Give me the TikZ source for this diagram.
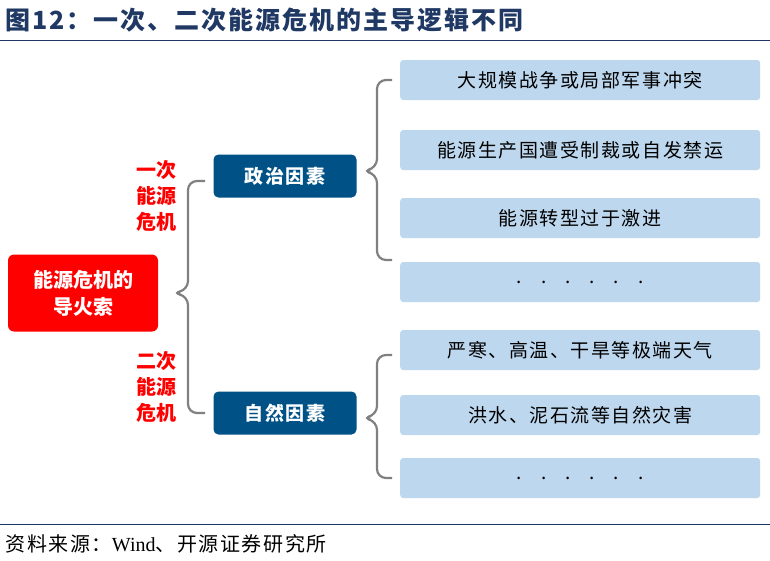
\documentclass[tikz,border=0pt]{standalone}
\usepackage{fontspec}
\setmainfont{Noto Sans CJK SC}
\newfontfamily\spaced[LetterSpace=8]{Noto Sans CJK SC}
\newfontfamily\serif{Liberation Serif}
\definecolor{dblue}{HTML}{005286}
\definecolor{lblue}{HTML}{BDD7EE}
\definecolor{tblue}{HTML}{1F3864}
\tikzset{
  item/.style={fill=lblue, rounded corners=3pt, minimum width=360pt, minimum height=40pt, anchor=west, font=\spaced\fontsize{19}{22}\selectfont},
  factor/.style={fill=dblue, text=white, rounded corners=5pt, minimum width=143pt, minimum height=43pt, font=\spaced\bfseries\fontsize{19}{22}\selectfont},
  brace/.style={draw=gray, line width=2.2pt, rounded corners=9pt},
  redtxt/.style={text=red, font=\bfseries\fontsize{20}{26}\selectfont, align=center}
}
\begin{document}
\begin{tikzpicture}[x=1pt,y=-1pt]
\useasboundingbox (0,0) rectangle (770,560);
% title
\node[anchor=west, text=tblue, font=\spaced\bfseries\fontsize{25}{28}\selectfont] (title) at (2,20) {图12：一次、二次能源危机的主导逻辑不同};
\draw[tblue, line width=1pt] (0,40) -- (770,40);
\draw[tblue, line width=1pt] (0,524) -- (770,524);
\node[anchor=west, font=\spaced\fontsize{20}{22}\selectfont] (src) at (2,544) {资料来源：{\serif Wind}、开源证券研究所};
% left
\node[fill=red, text=white, rounded corners=6pt, minimum width=150pt, minimum height=77pt, align=center, font=\bfseries\fontsize{20}{27}\selectfont] (fire) at (83,293) {能源危机的\\导火索};
\node[redtxt] (first) at (156,196) {一次\\能源\\危机};
\node[redtxt] (second) at (156,387) {二次\\能源\\危机};
\node[factor] (pol) at (285,176) {政治因素};
\node[factor] (nat) at (285,413) {自然因素};
\draw[brace] (205,181) -- (188,181) -- (188,290) -- (172,293) -- (188,296) -- (188,413) -- (205,413);
% items
\node[item] (a1) at (400,80) {大规模战争或局部军事冲突};
\node[item] (a2) at (400,150) {能源生产国遭受制裁或自发禁运};
\node[item] (a3) at (400,218) {能源转型过于激进};
\node[item] (a4) at (400,282) {.\quad.\quad.\quad.\quad.\quad.};
\node[item] (b1) at (400,350) {严寒、高温、干旱等极端天气};
\node[item] (b2) at (400,415) {洪水、泥石流等自然灾害};
\node[item] (b3) at (400,478) {.\quad.\quad.\quad.\quad.\quad.};
\draw[brace] (392,80) -- (377,80) -- (377,168) -- (362,171) -- (377,174) -- (377,260) -- (392,260);
\draw[brace] (392,355) -- (377,355) -- (377,415) -- (362,418) -- (377,421) -- (377,478) -- (392,478);
\end{tikzpicture}
\end{document}
